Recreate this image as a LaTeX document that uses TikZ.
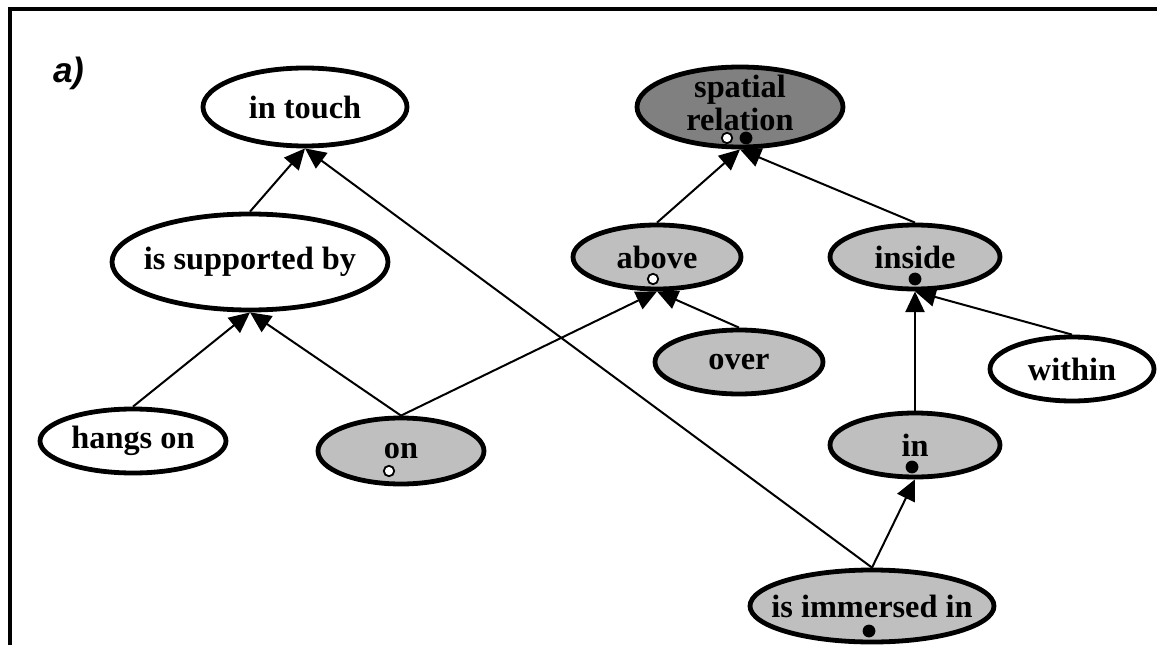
\documentclass[tikz,border=0pt]{standalone}
\usepackage{fontspec}
\setmainfont{Liberation Serif}
\newfontfamily\panelfont{Liberation Sans}
\usetikzlibrary{shapes.geometric}
\usetikzlibrary{arrows.meta}
\usetikzlibrary{positioning}

\begin{document}
\begin{tikzpicture}[>={Triangle[length=0.52cm, width=0.48cm]}, on grid, auto,
       rel/.style={draw, ellipse, line width=0.12cm, inner xsep=-8mm, inner ysep=-4mm,
         font=\bfseries\fontsize{23}{25}\selectfont},
       rel fill/.style={rel, fill=lightgray},
       hole/.style={draw, circle, fill=white, line width=0.045cm, minimum size=0.26cm, inner sep=0pt},
       full/.style={circle, fill=black, minimum size=0.32cm, inner sep=0pt},
       link/.style={line width=0.05cm}]

       \useasboundingbox (0,0) rectangle (28.925,16.125);
       \draw[line width=0.09cm] (0.25,0) -- (0.25,15.9) -- (28.925,15.9);
       \node[font=\panelfont\bfseries\itshape\fontsize{25}{27}\selectfont] (Label_a) at (1.72,14.3) {a)};

       \node[rel, minimum width=5.1cm, minimum height=1.95cm] (In_Touch) at (7.625,13.45) {in touch};
       \node[rel, below left=3.875cm and 1.375cm of In_Touch, minimum width=6.9cm,
       minimum height=2.4cm] (Supported) {is supported by};
       \node[rel, below left=4.475cm and 2.925cm of Supported, minimum width=4.65cm,
       minimum height=1.6cm] (Hangs_On) {hangs on};
       \node[rel fill, below right=4.725cm and 3.775cm of Supported, minimum width=4.15cm,
       minimum height=1.65cm] (On) {on};
       \node[hole, below left=0.5cm and 0.3cm of On] (On_o) {};

       \node[rel, fill=gray, right=10.875cm of In_Touch, minimum width=5.15cm,
       minimum height=2cm] (Spatial)
       {\raisebox{0.2cm}{\begin{tabular}{@{}c@{}}spatial\\[-1.5pt]relation\end{tabular}}};
       \node[hole, below left=0.775cm and 0.325cm of Spatial] (Spatial_o) {};
       \node[full, below right=0.775cm and 0.15cm of Spatial] (Spatial_x) {};

       \node[rel fill, below left=3.75cm and 2.075cm of Spatial, minimum width=4.2cm,
       minimum height=1.6cm] (Above) {above};
       \node[hole, below left=0.55cm and 0.1cm of Above] (Above_o) {};
       \node[rel fill, right=6.45cm of Above, minimum width=4.25cm,
       minimum height=1.6cm] (Inside) {inside};
       \node[full, below=0.55cm of Inside] (Inside_x) {};
       \node[rel fill, below right=2.625cm and 2.05cm of Above, minimum width=4.2cm,
       minimum height=1.6cm] (Over) {over};
       \node[rel, below right=2.8cm and 3.925cm of Inside, minimum width=4.1cm,
       minimum height=1.6cm] (Within) {within};
       \node[rel fill, below=4.7cm of Inside, minimum width=4.25cm,
       minimum height=1.6cm] (In) {in};
       \node[full, below left=0.55cm and 0.075cm of In] (In_x) {};
       \node[rel fill, below left=4.025cm and 1.075cm of In, minimum width=6.1cm,
       minimum height=1.8cm] (Immersed) {is immersed in};
       \node[full, below left=0.625cm and 0.075cm of Immersed] (Immersed_x) {};

       \path[->, link] (Supported.north) edge (In_Touch.south);
       \path[->, link] (Hangs_On.north) edge (Supported.south);
       \path[->, link] (On.north) edge (Supported.south);
       \path[->, link] (On.north) edge (Above.south);
       \path[->, link] (Over.north) edge (Above.south);
       \path[->, link] (Above.north) edge (Spatial.south);
       \path[->, link] (Inside.north) edge (Spatial.south);
       \path[->, link] (Within.north) edge (Inside.south);
       \path[->, link] (In.north) edge (Inside.south);
       \path[->, link] (Immersed.north) edge (In.south);
       \path[->, link] (Immersed.north) edge (In_Touch.south);

     \end{tikzpicture}
\end{document}
